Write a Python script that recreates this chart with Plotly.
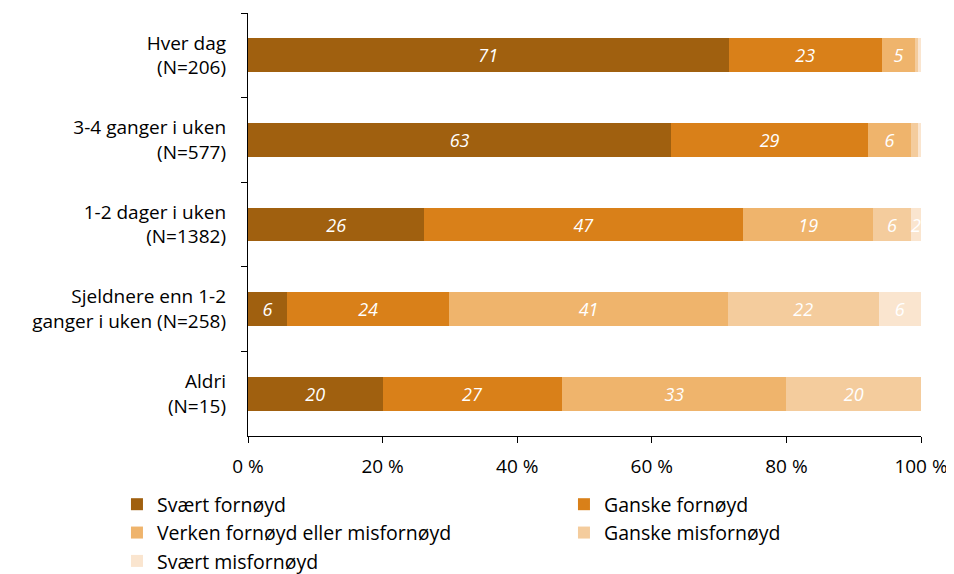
import plotly.graph_objects as go

categories = ["Hver dag<br>(N=206)", "3-4 ganger i uken<br>(N=577)", "1-2 dager i uken<br>(N=1382)",
              "Sjeldnere enn 1-2<br>ganger i uken (N=258)", "Aldri<br>(N=15)"]
series_names = ["Svært fornøyd", "Ganske fornøyd", "Verken fornøyd eller misfornøyd",
                "Ganske misfornøyd", "Svært misfornøyd"]
svaert_fornoyd = [71.4, 62.9, 26.2, 5.8, 20.0]
ganske_fornoyd = [22.8, 29.2, 47.4, 24.1, 26.7]
verken = [4.9, 6.4, 19.3, 41.4, 33.3]
ganske_misfornoyd = [0.5, 1.0, 5.6, 22.4, 20.0]
svaert_misfornoyd = [0.4, 0.5, 1.5, 6.3, 0.0]
x_tickvals = [0, 20, 40, 60, 80, 100]
x_ticklabels = ["0 %", "20 %", "40 %", "60 %", "80 %", "100 %"]

colors = ["#A0600F", "#D98019", "#EFB46C", "#F4CC9D", "#FAE5CF"]
FONT = "'Open Sans', Lato, sans-serif"

fig = go.Figure()
for i, (name, vals, col) in enumerate(zip(series_names,
                           [svaert_fornoyd, ganske_fornoyd, verken, ganske_misfornoyd, svaert_misfornoyd],
                           colors)):
    labels = [f"{round(v):d}" if v >= 1.45 else "" for v in vals]
    fig.add_trace(go.Bar(
        y=categories, x=vals, name=name, orientation="h",
        marker=dict(color=col, line=dict(width=0)),
        text=labels, textposition="inside", insidetextanchor="middle", textangle=0,
        textfont=dict(color="white", size=18, family=FONT, style="italic"),
        cliponaxis=False,
        legendwidth=250 if i % 2 == 1 else None,
    ))

fig.update_layout(
    barmode="stack", bargap=0.6,
    width=946, height=566,
    margin=dict(l=240, r=33, t=5, b=138, autoexpand=False),
    paper_bgcolor="white", plot_bgcolor="white",
    font=dict(family=FONT, size=19, color="#000000"),
    uniformtext=dict(minsize=18, mode="show"),
    showlegend=True,
    legend=dict(orientation="h", x=-0.1947, xanchor="left", y=-0.1159, yanchor="top",
                entrywidth=402, font=dict(size=19.5, family=FONT), traceorder="normal",
                itemwidth=30, tracegroupgap=0),
    xaxis=dict(range=[0, 100], tickvals=x_tickvals, ticktext=x_ticklabels, automargin=False,
               showgrid=False, zeroline=False, showline=True, linecolor="#000", linewidth=1.3,
               ticks="outside", ticklen=6, tickcolor="#000", tickfont=dict(size=19),
               ticklabelstandoff=7),
    yaxis=dict(categoryorder="array", categoryarray=categories, autorange="reversed", automargin=False,
               showgrid=False, showline=True, linecolor="#000", linewidth=1.3,
               ticks="outside", ticklen=6, tickcolor="#000", tickson="boundaries",
               tickfont=dict(size=19), ticklabelstandoff=17),
)

fig.write_html("out.html")
